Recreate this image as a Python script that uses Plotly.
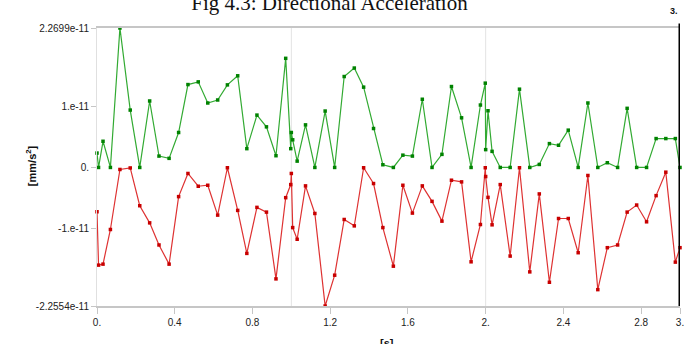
import plotly.graph_objects as go

# time [s]
time_s = [0.000, 0.008, 0.031, 0.069, 0.118, 0.171, 0.220, 0.271, 0.319, 0.371,
          0.420, 0.468, 0.521, 0.570, 0.621, 0.671, 0.724, 0.771, 0.823, 0.872,
          0.921, 0.971, 0.997, 1.000, 1.007, 1.030, 1.073, 1.121, 1.174, 1.223,
          1.272, 1.324, 1.372, 1.423, 1.471, 1.525, 1.574, 1.623, 1.674, 1.724,
          1.775, 1.824, 1.876, 1.925, 1.973, 1.998, 2.000, 2.012, 2.033, 2.075,
          2.126, 2.174, 2.227, 2.276, 2.328, 2.375, 2.425, 2.476, 2.526, 2.577,
          2.626, 2.679, 2.728, 2.777, 2.828, 2.877, 2.927, 2.976, 3.000]

# maximum acceleration, in units of 1e-11 mm/s^2
maximum = [0.234, 0.000, 0.426, 0.000, 2.2699, 0.934, 0.000, 1.082, 0.185, 0.148,
           0.569, 1.349, 1.393, 1.049, 1.098, 1.344, 1.492, 0.306, 0.852, 0.661,
           0.191, 1.776, 0.306, 0.569, 0.450, 0.103, 0.693, 0.000, 0.918, 0.000,
           1.480, 1.618, 1.307, 0.634, 0.044, 0.000, 0.200, 0.185, 1.110, 0.000,
           0.213, 1.317, 0.808, 0.000, 1.016, 1.372, 0.290, 0.923, 0.262, 0.000,
           0.000, 1.274, 0.000, 0.049, 0.388, 0.361, 0.607, 0.000, 1.049, 0.000,
           0.077, 0.000, 0.962, 0.000, 0.000, 0.470, 0.470, 0.470, 0.000]

# minimum acceleration, in units of 1e-11 mm/s^2
minimum = [-0.721, -1.590, -1.574, -1.010, -0.033, -0.008, -0.623, -0.902, -1.262, -1.574,
           -0.475, -0.098, -0.306, -0.290, -0.776, -0.005, -0.699, -1.399, -0.650, -0.727,
           -1.814, -0.492, -0.279, -0.098, -0.979, -1.169, -0.300, -0.749, -2.2554, -1.754,
           -0.847, -0.951, -0.005, -0.262, -0.979, -1.607, -0.290, -0.743, -0.300, -0.552,
           -0.874, -0.208, -0.235, -1.536, -0.929, -0.005, -0.148, -0.487, -0.934, -0.279,
           -1.443, -0.005, -1.700, -0.431, -1.869, -0.831, -0.831, -1.388, -0.131, -1.989,
           -1.306, -1.262, -0.727, -0.612, -0.885, -0.459, -0.077, -1.541, -1.306]

y_tickvals = [2.2699, 1.0, 0.0, -1.0, -2.2554]
y_ticktext = ["2.2699e-11", "1.e-11", "0.", "-1.e-11", "-2.2554e-11"]
x_tickvals = [0, 0.4, 0.8, 1.2, 1.6, 2.0, 2.4, 2.8, 3.0]
x_ticktext = ["0.", "0.4", "0.8", "1.2", "1.6", "2.", "2.4", "2.8", "3."]
grid_times = [1.0, 2.0]
cursor_time = 3.0

fig = go.Figure()
fig.add_trace(go.Scatter(
    x=time_s, y=maximum, mode="lines+markers", name="Maximum",
    line=dict(color="rgb(50,170,50)", width=1.2),
    marker=dict(symbol="square", size=3.5, color="rgb(0,130,0)"),
    cliponaxis=False,
))
fig.add_trace(go.Scatter(
    x=time_s, y=minimum, mode="lines+markers", name="Minimum",
    line=dict(color="rgb(222,50,50)", width=1.2),
    marker=dict(symbol="square", size=3.5, color="rgb(200,0,0)"),
    cliponaxis=False,
))

shapes = []
for gt in grid_times:
    shapes.append(dict(type="line", xref="x", yref="paper", x0=gt, x1=gt, y0=0, y1=1,
                       line=dict(color="#e3e3e3", width=1), layer="below"))
shapes.append(dict(type="line", xref="x", yref="paper", x0=cursor_time, x1=cursor_time,
                   y0=0, y1=1.016, line=dict(color="black", width=3)))

fig.update_layout(
    width=696, height=344,
    margin=dict(l=97, r=12, t=28, b=38),
    paper_bgcolor="white", plot_bgcolor="white",
    showlegend=False,
    title=dict(text="Fig 4.3: Directional Acceleration",
               font=dict(family="Liberation Serif", size=21, color="#111"),
               x=0.4734, xanchor="center", xref="container",
               y=0.97, yanchor="bottom", yref="container"),
    shapes=shapes,
    xaxis=dict(range=[0, 3], tickvals=x_tickvals, ticktext=x_ticktext,
               showgrid=False, zeroline=False,
               showline=True, linecolor="#c6c6c6", linewidth=2, mirror=True,
               ticks="outside", ticklen=6, tickcolor="#c6c6c6", tickwidth=1,
               tickfont=dict(family="Liberation Sans", size=10, color="#222")),
    yaxis=dict(range=[-2.2554, 2.2699], tickvals=y_tickvals, ticktext=y_ticktext,
               showgrid=False, zeroline=False,
               showline=True, linecolor="#e0e0e0", linewidth=1,
               ticks="outside", ticklen=5, tickcolor="#c6c6c6", tickwidth=1,
               tickfont=dict(family="Liberation Sans", size=10, color="#222")),
    annotations=[
        dict(text="<b>[mm/s<sup>2</sup>]</b>", xref="paper", yref="paper",
             x=-0.114, y=0.505, textangle=-90, showarrow=False,
             font=dict(family="Liberation Sans", size=11, color="#111"),
             xanchor="center", yanchor="middle"),
        dict(text="<b>[s]</b>", xref="paper", yref="paper",
             x=0.497, y=-0.105, showarrow=False, xanchor="center", yanchor="top",
             font=dict(family="Liberation Sans", size=11, color="#111")),
        dict(text="<b>3.</b>", xref="x", yref="paper", x=cursor_time, y=1.035,
             showarrow=False, xanchor="right", yanchor="bottom",
             font=dict(family="Liberation Sans", size=9, color="#111")),
    ],
)

fig.write_html("out.html", config={"displayModeBar": False},
               post_script="document.body.style.margin='0px';")
